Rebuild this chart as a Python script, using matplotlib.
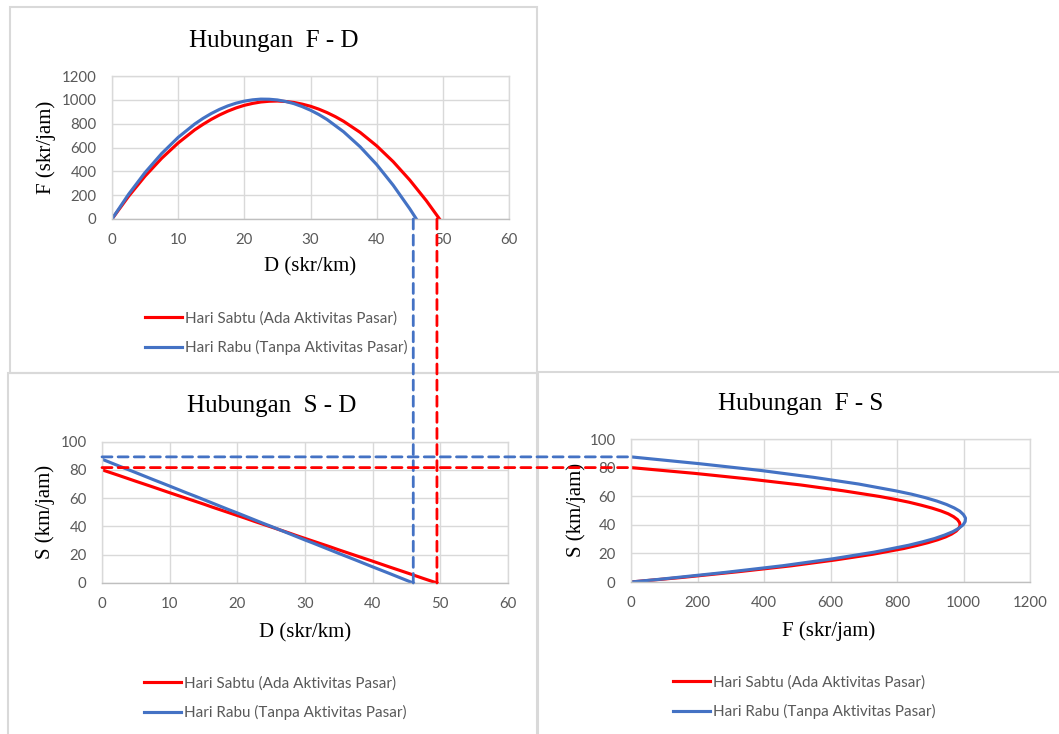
import matplotlib
matplotlib.use("Agg")
import matplotlib.pyplot as plt
from matplotlib.lines import Line2D
from matplotlib.patches import Rectangle, ConnectionPatch
from matplotlib.transforms import blended_transform_factory

# Saturday (with market activity)
d_sabtu = [0, 2.5, 5, 7.5, 10, 12.5, 13.75, 15, 16.25, 17.5, 18.75, 20,
           21.25, 22.5, 23.75, 25, 26.25, 27.5, 28.75, 30, 31.25, 32.5,
           33.75, 35, 37.5, 40, 42.5, 45, 47.5, 49.5]
s_sabtu = [80, 76, 71.9, 67.9, 63.8, 59.8, 57.8, 55.8, 53.7, 51.7, 49.7,
           47.7, 45.7, 43.6, 41.6, 39.6, 37.6, 35.6, 33.5, 31.5, 29.5, 27.5,
           25.5, 23.4, 19.4, 15.4, 11.3, 7.3, 3.2, 0]
f_sabtu = [0, 190, 360, 509, 638, 748, 794, 836, 873, 905, 932, 954, 970,
           982, 988, 990, 986, 978, 964, 946, 922, 893, 859, 820, 727, 614,
           481, 327, 154, 0]

# Wednesday (no market activity)
d_rabu = [0, 2.5, 5, 7.5, 10, 12.5, 13.75, 15, 16.25, 17.5, 18.75, 20,
          21.25, 22.5, 23.75, 25, 26.25, 27.5, 28.75, 30, 31.25, 32.5, 35,
          37.5, 40, 42.5, 45, 46]
s_rabu = [87.5, 82.7, 78.0, 73.2, 68.5, 63.7, 61.4, 59.0, 56.6, 54.2, 51.8,
          49.5, 47.1, 44.7, 42.3, 40.0, 37.6, 35.2, 32.8, 30.4, 28.1, 25.7,
          20.9, 16.2, 11.4, 6.7, 1.9, 0]
f_rabu = [0, 207, 390, 549, 685, 797, 844, 885, 920, 949, 972, 989, 1000,
          1006, 1005, 999, 986, 968, 943, 913, 877, 835, 732, 606, 457, 283,
          86, 0]

# jam density / free-flow speed used for the guide lines
dj = {"sabtu": 49.5, "rabu": 46}
sf = {"sabtu": 80, "rabu": 87.5}

label_sabtu = "Hari Sabtu (Ada Aktivitas Pasar)"
label_rabu = "Hari Rabu (Tanpa Aktivitas Pasar)"
RED = "#FF0000"
BLUE = "#4472C4"
GRID = "#D9D9D9"
TICK = "#595959"
SERIF = "Liberation Serif"
SANS = "Lato"

W, H = 1059, 734
fig = plt.figure(figsize=(W / 100, H / 100), dpi=100)


def box(l, t, r, b):
    return [l / W, 1 - b / H, (r - l) / W, (b - t) / H]


def fx(x):
    return x / W


def fy(y):
    return 1 - y / H


# chart frames (light gray borders like the Excel chart areas)
for l, t, r, b in [(10, 7, 537, 373), (8, 373, 537, 745), (538, 372, 1070, 745)]:
    fig.add_artist(Rectangle((fx(l), fy(b)), (r - l) / W, (b - t) / H,
                             transform=fig.transFigure, fill=False,
                             edgecolor=GRID, lw=1.5, zorder=-1))

ax_fd = fig.add_axes(box(112, 76, 509, 219))
ax_sd = fig.add_axes(box(102, 441.5, 508, 583))
ax_fs = fig.add_axes(box(631, 439, 1030, 582))


def style(ax, xmax, xstep, ymax, ystep):
    ax.set_xlim(0, xmax)
    ax.set_ylim(0, ymax)
    ax.set_xticks(range(0, xmax + 1, xstep))
    ax.set_yticks(range(0, ymax + 1, ystep))
    ax.grid(True, color=GRID, lw=1)
    ax.set_axisbelow(True)
    for sp in ax.spines.values():
        sp.set_color(GRID)
        sp.set_linewidth(1)
    ax.spines["bottom"].set_color("#BFBFBF")
    ax.tick_params(length=0, labelcolor=TICK, labelsize=10.8)
    ax.tick_params(axis="x", pad=10)
    ax.tick_params(axis="y", pad=11)
    for t in ax.get_xticklabels() + ax.get_yticklabels():
        t.set_fontfamily(SANS)


style(ax_fd, 60, 10, 1200, 200)
style(ax_sd, 60, 10, 100, 20)
style(ax_fs, 1200, 200, 100, 20)

lw = 2.25
ax_fd.plot(d_sabtu, f_sabtu, color=RED, lw=lw)
ax_fd.plot(d_rabu, f_rabu, color=BLUE, lw=lw)
ax_sd.plot(d_sabtu, s_sabtu, color=RED, lw=lw)
ax_sd.plot(d_rabu, s_rabu, color=BLUE, lw=lw)
ax_fs.plot(f_sabtu, s_sabtu, color=RED, lw=lw)
ax_fs.plot(f_rabu, s_rabu, color=BLUE, lw=lw)

# titles and axis labels
fig.text(fx(274), fy(46.5), "Hubungan  F - D", family=SERIF, fontsize=18,
         ha="center", va="baseline")
fig.text(fx(272), fy(412), "Hubungan  S - D", family=SERIF, fontsize=18,
         ha="center", va="baseline")
fig.text(fx(801), fy(410), "Hubungan  F - S", family=SERIF, fontsize=18,
         ha="center", va="baseline")

for x, y, s, rot in [(310, 267, "D (skr/km)", 0), (46, 147, "F (skr/jam)", 90),
                     (305, 633, "D (skr/km)", 0), (45, 512, "S (km/jam)", 90),
                     (829, 631, "F (skr/jam)", 0), (576, 510, "S (km/jam)", 90)]:
    fig.text(fx(x), fy(y), s, family=SERIF, fontsize=15, rotation=rot,
             ha="center", va="center")

# legends
handles = [Line2D([], [], color=RED, lw=lw), Line2D([], [], color=BLUE, lw=lw)]
for ax, x, y in [(ax_fd, 145, 333), (ax_sd, 144, 698), (ax_fs, 673, 697)]:
    ax.legend(handles, [label_sabtu, label_rabu], loc="center left",
              bbox_to_anchor=(fx(x), fy(y)), bbox_transform=fig.transFigure,
              frameon=False, handlelength=2.4, handletextpad=0.25,
              labelspacing=0.95, borderpad=0, borderaxespad=0,
              prop={"family": SANS, "size": 11}, labelcolor=TICK)

# dashed guide lines linking the charts
dash = (0, (3.6, 2.2))
for key, col in [("rabu", BLUE), ("sabtu", RED)]:
    top = blended_transform_factory(ax_sd.transData, ax_fd.transData)
    con = ConnectionPatch(xyA=(dj[key], 0), coordsA=top,
                          xyB=(dj[key], 0), coordsB=ax_sd.transData,
                          color=col, lw=2, linestyle=dash, zorder=5)
    fig.add_artist(con)
    left = blended_transform_factory(ax_sd.transData, ax_fs.transData)
    con = ConnectionPatch(xyA=(0, sf[key]), coordsA=left,
                          xyB=(0, sf[key]), coordsB=ax_fs.transData,
                          color=col, lw=2, linestyle=dash, zorder=5)
    fig.add_artist(con)

fig.savefig("out.png", dpi=100, facecolor="white")
